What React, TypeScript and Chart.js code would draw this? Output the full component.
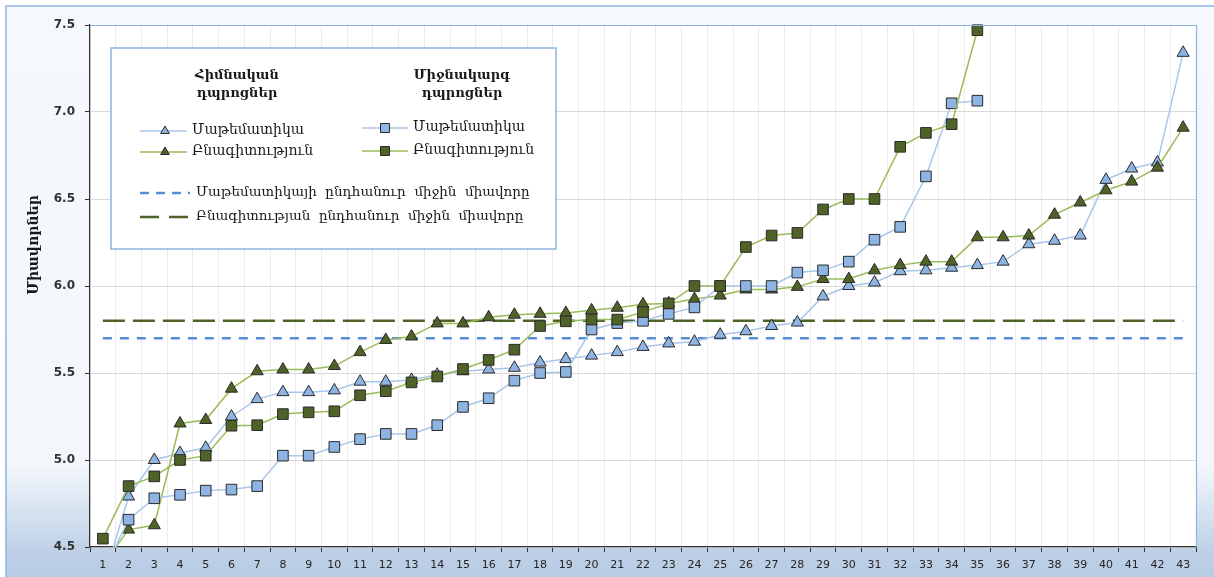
import React, { useEffect, useRef } from "react";
import { Chart, registerables } from "chart.js";

Chart.register(...registerables);

const categories = [
  "1", "2", "3", "4", "5", "6", "7", "8", "9", "10",
  "11", "12", "13", "14", "15", "16", "17", "18", "19", "20",
  "21", "22", "23", "24", "25", "26", "27", "28", "29", "30",
  "31", "32", "33", "34", "35", "36", "37", "38", "39", "40",
  "41", "42", "43",
];

// Հիմնական դպրոցներ — Մաթեմատիկա
const basicMath = [
  4.3, 4.79, 5.0, 5.04, 5.07, 5.25, 5.35, 5.39, 5.39, 5.4,
  5.45, 5.45, 5.46, 5.49, 5.51, 5.52, 5.53, 5.56, 5.58, 5.6,
  5.62, 5.65, 5.67, 5.68, 5.72, 5.74, 5.77, 5.79, 5.94, 6.0,
  6.02, 6.085, 6.09, 6.105, 6.12, 6.14, 6.24, 6.26, 6.29, 6.61,
  6.675, 6.71, 7.34,
];

// Հիմնական դպրոցներ — Բնագիտություն
const basicScience = [
  4.4, 4.6, 4.625, 5.21, 5.23, 5.41, 5.51, 5.52, 5.52, 5.54,
  5.62, 5.69, 5.71, 5.785, 5.785, 5.82, 5.835, 5.84, 5.845, 5.86,
  5.875, 5.895, 5.9, 5.925, 5.945, 5.98, 5.98, 5.995, 6.04, 6.04,
  6.09, 6.12, 6.14, 6.14, 6.28, 6.28, 6.29, 6.41, 6.48, 6.55,
  6.6, 6.68, 6.91,
];

// Միջնակարգ դպրոցներ — Մաթեմատիկա
const secondaryMath = [
  4.35, 4.657, 4.78, 4.8, 4.824, 4.83, 4.85, 5.025, 5.025, 5.075,
  5.12, 5.15, 5.15, 5.2, 5.305, 5.355, 5.456, 5.5, 5.506, 5.75,
  5.787, 5.8, 5.84, 5.877, 6.0, 6.0, 6.0, 6.077, 6.09, 6.14,
  6.266, 6.34, 6.63, 7.05, 7.065,
];

// Միջնակարգ դպրոցներ — Բնագիտություն
const secondaryScience = [
  4.548, 4.85, 4.906, 5.0, 5.025, 5.197, 5.2, 5.264, 5.274, 5.28,
  5.372, 5.395, 5.446, 5.48, 5.523, 5.575, 5.634, 5.77, 5.797, 5.807,
  5.807, 5.85, 5.9, 6.0, 6.0, 6.224, 6.29, 6.305, 6.44, 6.5,
  6.5, 6.8, 6.88, 6.93, 7.47,
];

const mathAverage = 5.7;
const scienceAverage = 5.8;

const yMin = 4.5;
const yMax = 7.5;
const yStep = 0.5;

const yAxisTitle = "Միավորներ";
const headingBasic = ["Հիմնական", "դպրոցներ"];
const headingSecondary = ["Միջնակարգ", "դպրոցներ"];
const labelMath = "Մաթեմատիկա";
const labelScience = "Բնագիտություն";
const labelMathAvg = "Մաթեմատիկայի  ընդհանուր  միջին  միավորը";
const labelScienceAvg = "Բնագիտության  ընդհանուր  միջին  միավորը";

const BLUE_LINE = "#a9c7eb";
const GREEN_LINE = "#9bbb59";
const BLUE_FILL = "#8db4e2";
const GREEN_FILL = "#4f6228";
const MARKER_BORDER = "#2a2a2a";
const BLUE_DASH = "#558ed5";
const GREEN_DASH = "#4f6228";
const FRAME = "#8db3e2";

const SERIF = "'DejaVu Serif', 'DejaVu Sans', serif";
const SANS = "'DejaVu Sans', Verdana, sans-serif";

function drawTriangle(ctx: CanvasRenderingContext2D, x: number, y: number, r: number, fill: string) {
  ctx.beginPath();
  ctx.moveTo(x, y - r);
  ctx.lineTo(x + r * Math.sin((2 * Math.PI) / 3), y + r / 2);
  ctx.lineTo(x - r * Math.sin((2 * Math.PI) / 3), y + r / 2);
  ctx.closePath();
  ctx.fillStyle = fill;
  ctx.fill();
  ctx.lineWidth = 1;
  ctx.strokeStyle = MARKER_BORDER;
  ctx.stroke();
}

function drawSquare(ctx: CanvasRenderingContext2D, x: number, y: number, s: number, fill: string) {
  ctx.beginPath();
  ctx.rect(x - s, y - s, 2 * s, 2 * s);
  ctx.fillStyle = fill;
  ctx.fill();
  ctx.lineWidth = 1;
  ctx.strokeStyle = MARKER_BORDER;
  ctx.stroke();
}

const decorPlugin = {
  id: "decor",
  beforeDraw(chart: any) {
    const { ctx, chartArea: ca, width, height } = chart;
    ctx.save();
    ctx.fillStyle = "#ffffff";
    ctx.fillRect(0, 0, width, height);
    const g = ctx.createLinearGradient(0, 0, 0, height);
    g.addColorStop(0, "#f5f8fc");
    g.addColorStop(465 / 577, "#f3f7fb");
    g.addColorStop(555 / 577, "#bccfe6");
    g.addColorStop(1, "#b8cce4");
    ctx.fillStyle = g;
    ctx.fillRect(6, 6, width - 6, height - 6);
    ctx.strokeStyle = FRAME;
    ctx.lineWidth = 1.5;
    ctx.beginPath();
    ctx.moveTo(6, height);
    ctx.lineTo(6, 6);
    ctx.lineTo(width, 6);
    ctx.stroke();
    ctx.fillStyle = "#ffffff";
    ctx.fillRect(ca.left, ca.top, ca.right - ca.left, ca.bottom - ca.top);
    ctx.restore();
  },
  afterDraw(chart: any) {
    const { ctx, chartArea: ca } = chart;
    ctx.save();
    // plot frame top/right
    ctx.strokeStyle = FRAME;
    ctx.lineWidth = 1.2;
    ctx.beginPath();
    ctx.moveTo(ca.left, ca.top + 0.5);
    ctx.lineTo(ca.right + 0.5, ca.top + 0.5);
    ctx.lineTo(ca.right + 0.5, ca.bottom);
    ctx.stroke();

    // y axis title
    ctx.save();
    ctx.translate(34, 245);
    ctx.rotate(-Math.PI / 2);
    ctx.font = `bold 14px ${SERIF}`;
    ctx.fillStyle = "#1a1a1a";
    ctx.textAlign = "center";
    ctx.textBaseline = "middle";
    ctx.fillText(yAxisTitle, 0, 0);
    ctx.restore();

    // legend box
    const bx = 111, by = 48, bw = 445, bh = 201;
    ctx.fillStyle = "#ffffff";
    ctx.fillRect(bx, by, bw, bh);
    ctx.strokeStyle = FRAME;
    ctx.lineWidth = 1.5;
    ctx.strokeRect(bx, by, bw, bh);

    ctx.fillStyle = "#1a1a1a";
    ctx.textBaseline = "middle";
    ctx.font = `bold 13px ${SERIF}`;
    ctx.textAlign = "center";
    ctx.fillText(headingBasic[0], 237, 76);
    ctx.fillText(headingBasic[1], 237, 94);
    ctx.fillText(headingSecondary[0], 462, 76);
    ctx.fillText(headingSecondary[1], 462, 94);

    const row = (x1: number, x2: number, y: number, color: string) => {
      ctx.strokeStyle = color;
      ctx.lineWidth = 1.5;
      ctx.setLineDash([]);
      ctx.beginPath();
      ctx.moveTo(x1, y);
      ctx.lineTo(x2, y);
      ctx.stroke();
    };
    row(140, 187, 131, BLUE_LINE);
    drawTriangle(ctx, 165, 131, 5, BLUE_FILL);
    row(140, 187, 152, GREEN_LINE);
    drawTriangle(ctx, 165, 152, 5, GREEN_FILL);
    row(362, 408, 128, BLUE_LINE);
    drawSquare(ctx, 385, 128, 4.5, BLUE_FILL);
    row(362, 408, 151, GREEN_LINE);
    drawSquare(ctx, 385, 151, 4.5, GREEN_FILL);

    ctx.font = `14px ${SERIF}`;
    ctx.textAlign = "left";
    ctx.fillStyle = "#1a1a1a";
    ctx.fillText(labelMath, 192, 130);
    ctx.fillText(labelScience, 192, 151);
    ctx.fillText(labelMath, 413, 127);
    ctx.fillText(labelScience, 413, 150);

    ctx.lineWidth = 2.5;
    ctx.strokeStyle = BLUE_DASH;
    ctx.setLineDash([9, 7]);
    ctx.beginPath();
    ctx.moveTo(140, 193);
    ctx.lineTo(190, 193);
    ctx.stroke();
    ctx.strokeStyle = GREEN_DASH;
    ctx.setLineDash([19, 10]);
    ctx.beginPath();
    ctx.moveTo(140, 217);
    ctx.lineTo(190, 217);
    ctx.stroke();
    ctx.setLineDash([]);
    ctx.font = `13.5px ${SERIF}`;
    ctx.fillText(labelMathAvg, 196, 192);
    ctx.fillText(labelScienceAvg, 196, 216);
    ctx.restore();
  },
};

const clipArea = { left: 10, top: 10, right: 10, bottom: 0 };

export default function App() {
  const ref = useRef<HTMLCanvasElement>(null);

  useEffect(() => {
    const canvas = ref.current;
    if (!canvas) return;
    const chart = new Chart(canvas, {
      type: "line",
      data: {
        labels: categories,
        datasets: [
          {
            label: "Միջին Մաթեմատիկա",
            data: categories.map(() => mathAverage),
            borderColor: BLUE_DASH,
            borderWidth: 2.5,
            borderDash: [9, 8],
            pointRadius: 0,
            order: 6,
          },
          {
            label: "Միջին Բնագիտություն",
            data: categories.map(() => scienceAverage),
            borderColor: GREEN_DASH,
            borderWidth: 2.5,
            borderDash: [22, 8],
            pointRadius: 0,
            order: 5,
          },
          {
            label: "Հիմնական Մաթեմատիկա",
            data: basicMath,
            borderColor: BLUE_LINE,
            borderWidth: 1.5,
            pointStyle: "triangle",
            pointRadius: 7,
            pointBackgroundColor: BLUE_FILL,
            pointBorderColor: MARKER_BORDER,
            pointBorderWidth: 1,
            clip: clipArea,
            order: 4,
          },
          {
            label: "Հիմնական Բնագիտություն",
            data: basicScience,
            borderColor: GREEN_LINE,
            borderWidth: 1.5,
            pointStyle: "triangle",
            pointRadius: 7,
            pointBackgroundColor: GREEN_FILL,
            pointBorderColor: MARKER_BORDER,
            pointBorderWidth: 1,
            clip: clipArea,
            order: 3,
          },
          {
            label: "Միջնակարգ Մաթեմատիկա",
            data: secondaryMath,
            borderColor: BLUE_LINE,
            borderWidth: 1.5,
            pointStyle: "rect",
            pointRadius: 7.5,
            pointBackgroundColor: BLUE_FILL,
            pointBorderColor: MARKER_BORDER,
            pointBorderWidth: 1,
            clip: clipArea,
            order: 2,
          },
          {
            label: "Միջնակարգ Բնագիտություն",
            data: secondaryScience,
            borderColor: GREEN_LINE,
            borderWidth: 1.5,
            pointStyle: "rect",
            pointRadius: 7.5,
            pointBackgroundColor: GREEN_FILL,
            pointBorderColor: MARKER_BORDER,
            pointBorderWidth: 1,
            clip: clipArea,
            order: 1,
          },
        ],
      },
      options: {
        animation: false,
        responsive: false,
        devicePixelRatio: 1,
        layout: { padding: { left: 0, top: 25, right: 18, bottom: 0 } },
        plugins: {
          legend: { display: false },
          title: { display: false },
          tooltip: { enabled: false },
        },
        elements: { line: { tension: 0 } },
        scales: {
          x: {
            type: "category",
            offset: true,
            grid: {
              offset: true,
              color: "#ececec",
              lineWidth: 1,
              drawTicks: true,
              tickLength: 5,
              tickColor: "#333333",
            },
            border: { color: "#333333", width: 1.2 },
            ticks: {
              autoSkip: false,
              maxRotation: 0,
              minRotation: 0,
              padding: 7,
              color: "#262626",
              font: { family: SANS, size: 11 },
            },
            afterFit: (s: any) => {
              s.height = 30;
            },
          },
          y: {
            min: yMin,
            max: yMax,
            grid: {
              color: "#d9d9d9",
              lineWidth: 1,
              tickLength: 5,
              tickColor: "#333333",
            },
            border: { color: "#333333", width: 1.2 },
            ticks: {
              stepSize: yStep,
              padding: 10,
              color: "#333333",
              font: { family: SANS, size: 12, weight: "bold" },
              callback: (v: any) => Number(v).toFixed(1),
            },
            afterFit: (s: any) => {
              s.width = 90;
            },
          },
        },
      },
      plugins: [decorPlugin],
    });
    return () => chart.destroy();
  }, []);

  return (
    <div style={{ position: "fixed", left: 0, top: 0, width: 1214, height: 577 }}>
      <canvas ref={ref} width={1214} height={577} style={{ width: 1214, height: 577, display: "block" }} />
    </div>
  );
}
